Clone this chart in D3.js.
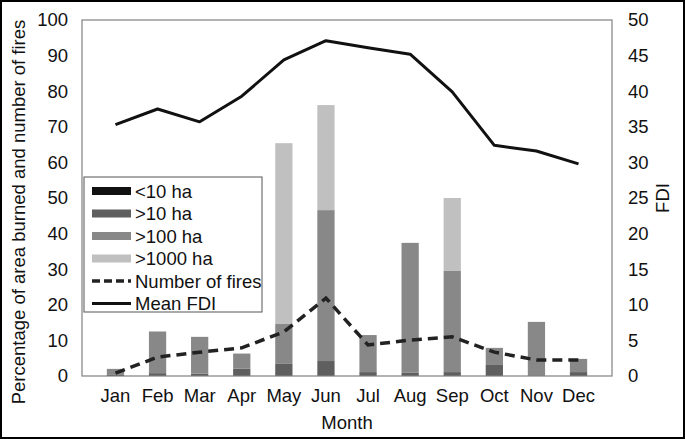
<!DOCTYPE html>
<html>
<head>
<meta charset="utf-8">
<script src="https://cdn.jsdelivr.net/npm/d3@7"></script>
<style>
  body { margin: 0; background: #fff; }
  svg { display: block; font-family: "Liberation Sans", Arial, sans-serif; }
</style>
</head>
<body>
<svg id="chart" width="685" height="439"></svg>
<script>
const months = ["Jan","Feb","Mar","Apr","May","Jun","Jul","Aug","Sep","Oct","Nov","Dec"];
// stacked area burned (%) per size class
const lt10 = [0, 0, 0, 0, 0, 0, 0, 0, 0, 0, 0, 0];
const gt10 = [0.3, 0.8, 0.7, 2.1, 3.4, 4.2, 1.1, 1.0, 1.1, 3.1, 0, 1.1];
const gt100 = [1.7, 11.7, 10.3, 4.2, 11.2, 42.4, 10.4, 36.4, 28.4, 4.8, 15.2, 3.7];
const gt1000 = [0, 0, 0, 0, 50.8, 29.5, 0, 0, 20.5, 0, 0, 0];
const numFires = [0.8, 5.3, 6.7, 7.9, 12.4, 21.9, 8.7, 10.1, 11.0, 6.7, 4.5, 4.5];
const meanFDI = [35.3, 37.5, 35.7, 39.3, 44.4, 47.1, 46.1, 45.2, 39.9, 32.4, 31.6, 29.8];
const leftTicks = [0,10,20,30,40,50,60,70,80,90,100];
const rightTicks = [0,5,10,15,20,25,30,35,40,45,50];

const classes = ["lt10","gt10","gt100","gt1000"];
const classColor = { lt10: "#111111", gt10: "#5f5f5f", gt100: "#888888", gt1000: "#c0c0c0" };
const classLabel = { lt10: "<10 ha", gt10: ">10 ha", gt100: ">100 ha", gt1000: ">1000 ha" };

const FS = 18.5;
const svg = d3.select("#chart");
const m = { left: 82, right: 612, top: 20, bottom: 376 };

const x = d3.scaleBand().domain(months).range([m.left, m.right]).padding(0.59);
const y = d3.scaleLinear().domain([0, 100]).range([m.bottom, m.top]);
const y2 = d3.scaleLinear().domain([0, 50]).range([m.bottom, m.top]);

// outer frame
svg.append("rect").attr("x", 1).attr("y", 1).attr("width", 683).attr("height", 437)
  .attr("fill", "none").attr("stroke", "#000").attr("stroke-width", 2);

// stacked bars
const rows = months.map((mo, i) => ({ month: mo, lt10: lt10[i], gt10: gt10[i], gt100: gt100[i], gt1000: gt1000[i] }));
const stack = d3.stack().keys(classes)(rows);
svg.append("g").selectAll("g").data(stack).join("g")
  .attr("fill", d => classColor[d.key])
  .selectAll("rect").data(d => d).join("rect")
  .attr("x", d => x(d.data.month))
  .attr("y", d => y(d[1]))
  .attr("width", x.bandwidth())
  .attr("height", d => y(d[0]) - y(d[1]));

// plot box
svg.append("rect").attr("x", m.left).attr("y", m.top)
  .attr("width", m.right - m.left).attr("height", m.bottom - m.top)
  .attr("fill", "none").attr("stroke", "#808080").attr("stroke-width", 1.2);

const cx = d => x(d) + x.bandwidth() / 2;

// number of fires (dashed)
svg.append("path")
  .datum(numFires)
  .attr("fill", "none").attr("stroke", "#222").attr("stroke-width", 3.5)
  .attr("stroke-dasharray", "10,6")
  .attr("d", d3.line().x((d, i) => cx(months[i])).y(d => y(d)));

// mean FDI
svg.append("path")
  .datum(meanFDI)
  .attr("fill", "none").attr("stroke", "#111").attr("stroke-width", 3)
  .attr("stroke-linejoin", "round")
  .attr("d", d3.line().x((d, i) => cx(months[i])).y(d => y2(d)));

// axes (labels only, no tick marks)
const axL = svg.append("g").attr("transform", `translate(${m.left},0)`)
  .call(d3.axisLeft(y).tickValues(leftTicks).tickSize(0).tickPadding(14));
const axR = svg.append("g").attr("transform", `translate(${m.right},0)`)
  .call(d3.axisRight(y2).tickValues(rightTicks).tickSize(0).tickPadding(16));
const axB = svg.append("g").attr("transform", `translate(0,${m.bottom})`)
  .call(d3.axisBottom(x).tickSize(0).tickPadding(13));
[axL, axR, axB].forEach(a => {
  a.select(".domain").remove();
  a.selectAll("text").attr("font-size", FS).attr("fill", "#111")
    .attr("font-family", "Liberation Sans, Arial, sans-serif");
});

svg.append("text").attr("transform", "translate(25,212) rotate(-90)")
  .attr("text-anchor", "middle").attr("font-size", FS).attr("fill", "#111")
  .text("Percentage of area burned and number of fires");
svg.append("text").attr("transform", "translate(669,198) rotate(-90)")
  .attr("text-anchor", "middle").attr("font-size", FS).attr("fill", "#111")
  .text("FDI");
svg.append("text").attr("x", 347).attr("y", 429)
  .attr("text-anchor", "middle").attr("font-size", FS).attr("fill", "#111")
  .text("Month");

// legend
const lg = svg.append("g").attr("transform", "translate(84,177)");
lg.append("rect").attr("width", 178).attr("height", 135)
  .attr("fill", "#fff").attr("stroke", "#555").attr("stroke-width", 1);
const items = classes.map(k => ({ type: "bar", key: k, label: classLabel[k] }))
  .concat([{ type: "dash", label: "Number of fires" }, { type: "line", label: "Mean FDI" }]);
const li = lg.selectAll("g").data(items).join("g")
  .attr("transform", (d, i) => `translate(8,${14 + i * 22.5})`);
li.filter(d => d.type === "bar").append("rect")
  .attr("x", 0).attr("y", -4).attr("width", 39).attr("height", 8)
  .attr("fill", d => classColor[d.key]);
li.filter(d => d.type === "dash").append("line")
  .attr("x1", 0).attr("x2", 39).attr("stroke", "#222").attr("stroke-width", 3.5)
  .attr("stroke-dasharray", "8,4");
li.filter(d => d.type === "line").append("line")
  .attr("x1", 0).attr("x2", 39).attr("stroke", "#111").attr("stroke-width", 3);
li.append("text").attr("x", 43).attr("y", 6.5)
  .attr("font-size", FS).attr("fill", "#111").text(d => d.label);
</script>
</body>
</html>
